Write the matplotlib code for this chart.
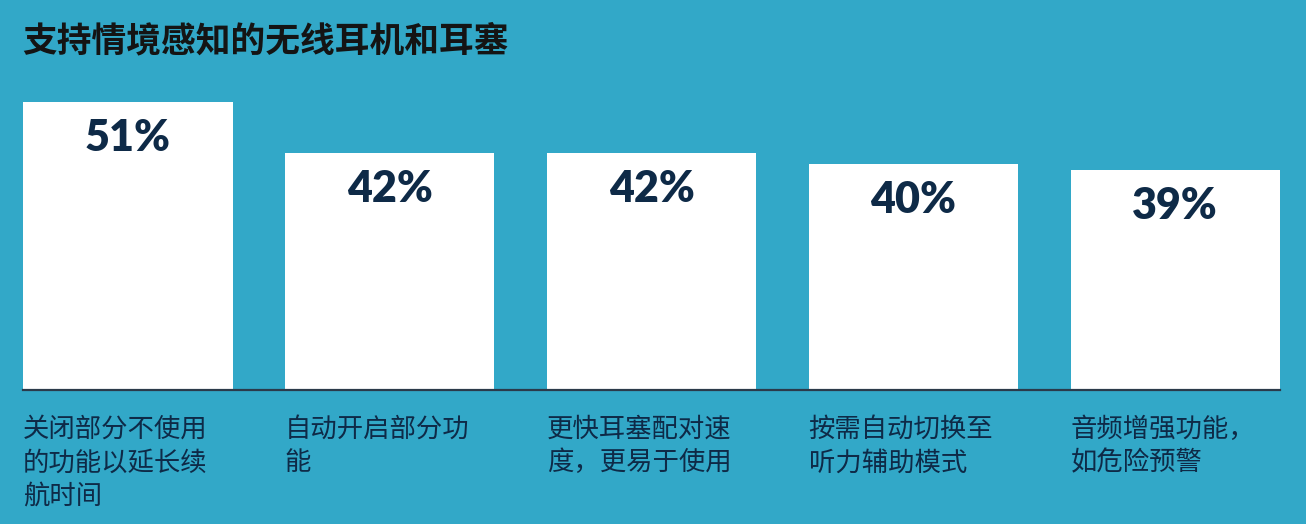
import matplotlib.pyplot as plt

plt.rcParams['font.family'] = ['Noto Sans CJK SC', 'DejaVu Sans']

title = '支持情境感知的无线耳机和耳塞'
categories = [
    '关闭部分不使用\n的功能以延长续\n航时间',
    '自动开启部分功\n能',
    '更快耳塞配对速\n度，更易于使用',
    '按需自动切换至\n听力辅助模式',
    '音频增强功能，\n如危险预警',
]
values = [51, 42, 42, 40, 39]

bg = '#32a8c8'
navy = '#0e2a47'

W, H = 1306, 524
fig = plt.figure(figsize=(W / 100, H / 100), dpi=100, facecolor=bg)

# axes placed in pixel terms: bars from x=23 to 1280, baseline at y=390, tallest bar top at y=102
left, right = 23, 1280
base, top = 390, 102
ax = fig.add_axes([left / W, 1 - base / H, (right - left) / W, (base - top) / H])
ax.set_facecolor(bg)

x = range(len(values))
ax.bar(x, values, width=0.8, color='white', zorder=2)
ax.set_xlim(-0.4, len(values) - 0.6)
ax.set_ylim(0, max(values))

for s in ['top', 'right', 'left']:
    ax.spines[s].set_visible(False)
ax.spines['bottom'].set_color('#2b3a4a')
ax.spines['bottom'].set_linewidth(1.6)
ax.spines['bottom'].set_zorder(3)
ax.set_xticks([])
ax.set_yticks([])

# value labels inside bar tops
for i, v in enumerate(values):
    ax.annotate(f'{v}%', (i, v), xytext=(0, -36), textcoords='offset pixels',
                ha='center', va='center', fontsize=31, fontweight='heavy',
                family=['Lato', 'DejaVu Sans'], color=navy, zorder=4)

# category labels under the bars, left-aligned to bar edge
for i, c in enumerate(categories):
    ax.annotate(c, (i - 0.4, 0), xytext=(0, -26), textcoords='offset pixels',
                ha='left', va='top', fontsize=19, color=navy,
                linespacing=1.3, annotation_clip=False)

fig.text(22 / W, 1 - 41 / H, title, ha='left', va='center', fontsize=25,
         fontweight='bold', color='#141414')

fig.savefig('out.png', dpi=100, facecolor=bg)
